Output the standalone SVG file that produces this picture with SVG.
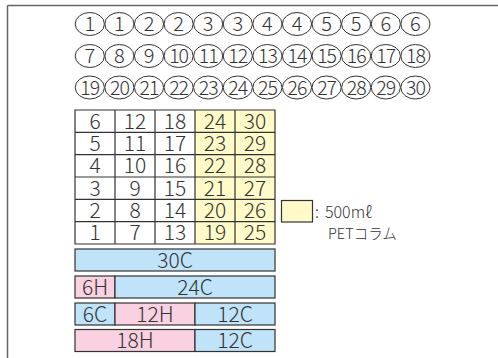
<svg xmlns="http://www.w3.org/2000/svg" width="498" height="358" viewBox="0 0 498 358">
<style>
.f{font-family:"Noto Sans CJK JP","Noto Sans",sans-serif;fill:#333;font-weight:300}
.c{font-size:20px;text-anchor:middle}
.cn{font-size:19.5px;text-anchor:middle;letter-spacing:-1px}
.e{fill:#fff;stroke:#333;stroke-width:1}
.cell{stroke:#333;stroke-width:1.2}
.w{fill:#fff}
.y{fill:#fffac8}
.b{fill:#bfe3f8}
.p{fill:#f9d1e1}
.t{font-size:21px;text-anchor:middle}
</style>
<g id="frame"><path d="M7.5 5.5H498M7.5 5.5V358" fill="none" stroke="#666" stroke-width="1.5"/></g>
<g id="circles">
<g id="row1">
<ellipse class="e" cx="89.8" cy="24" rx="14.6" ry="11.5"/><ellipse class="e" cx="119.4" cy="24" rx="14.6" ry="11.5"/><ellipse class="e" cx="149" cy="24" rx="14.6" ry="11.5"/><ellipse class="e" cx="178.6" cy="24" rx="14.6" ry="11.5"/><ellipse class="e" cx="208.2" cy="24" rx="14.6" ry="11.5"/><ellipse class="e" cx="237.8" cy="24" rx="14.6" ry="11.5"/><ellipse class="e" cx="267.4" cy="24" rx="14.6" ry="11.5"/><ellipse class="e" cx="297" cy="24" rx="14.6" ry="11.5"/><ellipse class="e" cx="326.6" cy="24" rx="14.6" ry="11.5"/><ellipse class="e" cx="356.2" cy="24" rx="14.6" ry="11.5"/><ellipse class="e" cx="385.8" cy="24" rx="14.6" ry="11.5"/><ellipse class="e" cx="415.4" cy="24" rx="14.6" ry="11.5"/>
<g class="f c"><text x="89.8" y="31.2">1</text><text x="119.4" y="31.2">1</text><text x="149" y="31.2">2</text><text x="178.6" y="31.2">2</text><text x="208.2" y="31.2">3</text><text x="237.8" y="31.2">3</text><text x="267.4" y="31.2">4</text><text x="297" y="31.2">4</text><text x="326.6" y="31.2">5</text><text x="356.2" y="31.2">5</text><text x="385.8" y="31.2">6</text><text x="415.4" y="31.2">6</text></g>
</g>
<g id="row2">
<ellipse class="e" cx="89.8" cy="56" rx="14.6" ry="11.5"/><ellipse class="e" cx="119.4" cy="56" rx="14.6" ry="11.5"/><ellipse class="e" cx="149" cy="56" rx="14.6" ry="11.5"/><ellipse class="e" cx="178.6" cy="56" rx="14.6" ry="11.5"/><ellipse class="e" cx="208.2" cy="56" rx="14.6" ry="11.5"/><ellipse class="e" cx="237.8" cy="56" rx="14.6" ry="11.5"/><ellipse class="e" cx="267.4" cy="56" rx="14.6" ry="11.5"/><ellipse class="e" cx="297" cy="56" rx="14.6" ry="11.5"/><ellipse class="e" cx="326.6" cy="56" rx="14.6" ry="11.5"/><ellipse class="e" cx="356.2" cy="56" rx="14.6" ry="11.5"/><ellipse class="e" cx="385.8" cy="56" rx="14.6" ry="11.5"/><ellipse class="e" cx="415.4" cy="56" rx="14.6" ry="11.5"/>
<g class="f c"><text x="89.8" y="63.2">7</text><text x="119.4" y="63.2">8</text><text x="149" y="63.2">9</text></g>
<g class="f cn"><text x="178.6" y="63.2">10</text><text x="208.2" y="63.2">11</text><text x="237.8" y="63.2">12</text><text x="267.4" y="63.2">13</text><text x="297" y="63.2">14</text><text x="326.6" y="63.2">15</text><text x="356.2" y="63.2">16</text><text x="385.8" y="63.2">17</text><text x="415.4" y="63.2">18</text></g>
</g>
<g id="row3">
<ellipse class="e" cx="89.8" cy="87.5" rx="14.6" ry="11.5"/><ellipse class="e" cx="119.4" cy="87.5" rx="14.6" ry="11.5"/><ellipse class="e" cx="149" cy="87.5" rx="14.6" ry="11.5"/><ellipse class="e" cx="178.6" cy="87.5" rx="14.6" ry="11.5"/><ellipse class="e" cx="208.2" cy="87.5" rx="14.6" ry="11.5"/><ellipse class="e" cx="237.8" cy="87.5" rx="14.6" ry="11.5"/><ellipse class="e" cx="267.4" cy="87.5" rx="14.6" ry="11.5"/><ellipse class="e" cx="297" cy="87.5" rx="14.6" ry="11.5"/><ellipse class="e" cx="326.6" cy="87.5" rx="14.6" ry="11.5"/><ellipse class="e" cx="356.2" cy="87.5" rx="14.6" ry="11.5"/><ellipse class="e" cx="385.8" cy="87.5" rx="14.6" ry="11.5"/><ellipse class="e" cx="415.4" cy="87.5" rx="14.6" ry="11.5"/>
<g class="f cn"><text x="89.8" y="94.7">19</text><text x="119.4" y="94.7">20</text><text x="149" y="94.7">21</text><text x="178.6" y="94.7">22</text><text x="208.2" y="94.7">23</text><text x="237.8" y="94.7">24</text><text x="267.4" y="94.7">25</text><text x="297" y="94.7">26</text><text x="326.6" y="94.7">27</text><text x="356.2" y="94.7">28</text><text x="385.8" y="94.7">29</text><text x="415.4" y="94.7">30</text></g>
</g>
</g>
<g id="table">
<rect class="w" x="75" y="110" width="120" height="134"/>
<rect class="y" x="195" y="110" width="80" height="134"/>
<path class="cell" fill="none" d="M75 110H275V244H75ZM115 110V244M155 110V244M195 110V244M235 110V244M75 132.3H275M75 154.7H275M75 177H275M75 199.3H275M75 221.7H275"/>
<g class="f t">
<text x="95" y="128.7">6</text><text x="135" y="128.7">12</text><text x="175" y="128.7">18</text><text x="215" y="128.7">24</text><text x="255" y="128.7">30</text>
<text x="95" y="151">5</text><text x="135" y="151">11</text><text x="175" y="151">17</text><text x="215" y="151">23</text><text x="255" y="151">29</text>
<text x="95" y="173.4">4</text><text x="135" y="173.4">10</text><text x="175" y="173.4">16</text><text x="215" y="173.4">22</text><text x="255" y="173.4">28</text>
<text x="95" y="195.7">3</text><text x="135" y="195.7">9</text><text x="175" y="195.7">15</text><text x="215" y="195.7">21</text><text x="255" y="195.7">27</text>
<text x="95" y="218">2</text><text x="135" y="218">8</text><text x="175" y="218">14</text><text x="215" y="218">20</text><text x="255" y="218">26</text>
<text x="95" y="240.4">1</text><text x="135" y="240.4">7</text><text x="175" y="240.4">13</text><text x="215" y="240.4">19</text><text x="255" y="240.4">25</text>
</g>
</g>
<g id="legend">
<rect class="y cell" x="281.5" y="200.5" width="31" height="21.5"/>
<text class="f" x="315" y="218" font-size="16">:<tspan x="325">500mℓ</tspan></text>
<text class="f" x="328" y="239" font-size="14.5">PETコラム</text>
</g>
<g id="bar1">
<rect class="b cell" x="75" y="249" width="200" height="22"/>
<text class="f t" x="175" y="267.5">30C</text>
</g>
<g id="bar2">
<rect class="p cell" x="75" y="276" width="40" height="22"/>
<rect class="b cell" x="115" y="276" width="160" height="22"/>
<text class="f t" x="95" y="294.5">6H</text>
<text class="f t" x="195" y="294.5">24C</text>
</g>
<g id="bar3">
<rect class="b cell" x="75" y="303" width="40" height="22"/>
<rect class="p cell" x="115" y="303" width="80" height="22"/>
<rect class="b cell" x="195" y="303" width="80" height="22"/>
<text class="f t" x="95" y="321.5">6C</text>
<text class="f t" x="155" y="321.5">12H</text>
<text class="f t" x="235" y="321.5">12C</text>
</g>
<g id="bar4">
<rect class="p cell" x="75" y="329.5" width="120" height="22"/>
<rect class="b cell" x="195" y="329.5" width="80" height="22"/>
<text class="f t" x="135" y="348">18H</text>
<text class="f t" x="235" y="348">12C</text>
</g>
</svg>
